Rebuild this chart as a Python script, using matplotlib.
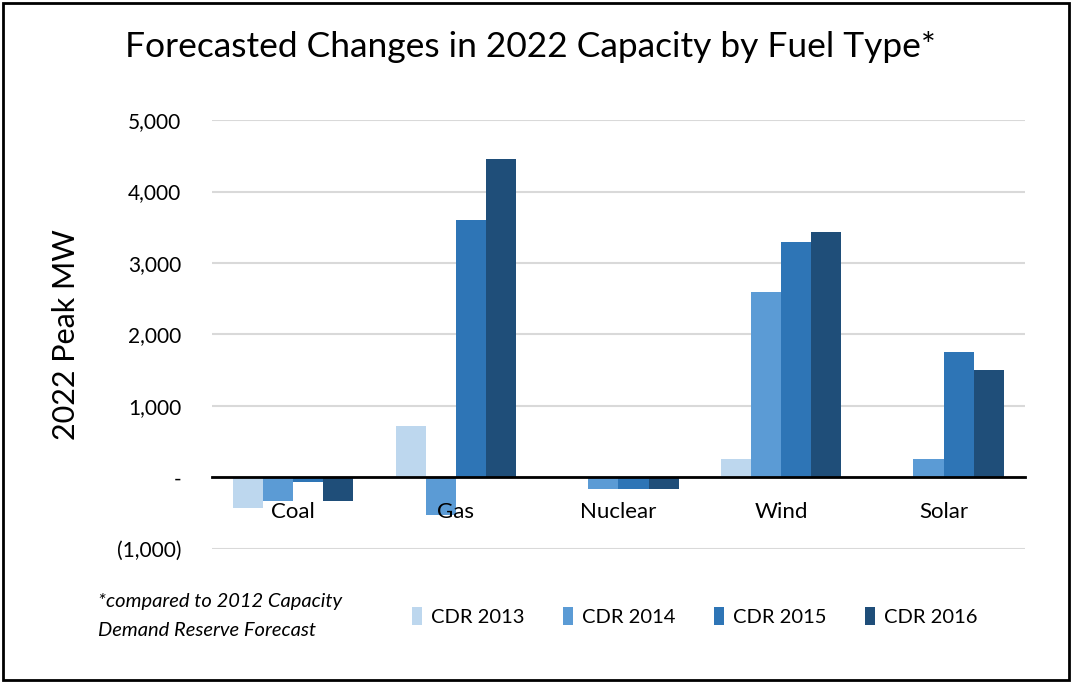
import numpy as np
import matplotlib.pyplot as plt
from matplotlib.patches import Rectangle
from matplotlib.ticker import FuncFormatter

plt.rcParams['font.family'] = ['Lato', 'DejaVu Sans']

fuels = ['Coal', 'Gas', 'Nuclear', 'Wind', 'Solar']
series = ['CDR 2013', 'CDR 2014', 'CDR 2015', 'CDR 2016']
cdr2013 = [-430, 725, 0, 265, 0]
cdr2014 = [-330, -525, -160, 2600, 265]
cdr2015 = [-60, 3600, -160, 3300, 1760]
cdr2016 = [-330, 4450, -160, 3440, 1500]
colors = ['#bdd7ee', '#5b9bd5', '#2e75b6', '#1f4e79']

fig = plt.figure(figsize=(10.72, 6.83), dpi=100)
ax = fig.add_axes([0.1978, 0.1962, 0.7582, 0.6281])

x = np.arange(len(fuels))
w = 0.185
for i, (vals, c, lab) in enumerate(zip([cdr2013, cdr2014, cdr2015, cdr2016], colors, series)):
    ax.bar(x + (i - 1.5) * w, vals, w, color=c, label=lab, zorder=3)

ax.set_xlim(-0.5, len(fuels) - 0.5)
ax.set_ylim(-1000, 5000)
ax.set_yticks(range(-1000, 5001, 1000))

def fmt(v, pos):
    if v == 0:
        return '-'
    if v < 0:
        return '({:,.0f})'.format(-v)
    return '{:,.0f}'.format(v)

ax.yaxis.set_major_formatter(FuncFormatter(fmt))
ax.grid(axis='y', color='#d9d9d9', linewidth=1.5, zorder=0)
for s in ['top', 'right', 'left']:
    ax.spines[s].set_visible(False)
ax.spines['bottom'].set_position(('data', 0))
ax.spines['bottom'].set_linewidth(2)
ax.spines['bottom'].set_zorder(4)
ax.set_xticks([])
# category names sit just under the zero line, on top of the bars
for i, f in enumerate(fuels):
    ax.annotate(f, xy=(i, 0), xytext=(0, -24.5), textcoords='offset points',
                ha='center', va='center', fontsize=16, zorder=5)
ax.tick_params(axis='y', length=0, labelsize=15, pad=22)
ax.set_ylabel('2022 Peak MW', fontsize=22, labelpad=14)
ax.yaxis.set_label_coords(-0.163, 0.5)

fig.text(0.495, 0.931, 'Forecasted Changes in 2022 Capacity by Fuel Type*',
         fontsize=25.5, ha='center', va='center')
fig.text(0.091, 0.098, '*compared to 2012 Capacity\nDemand Reserve Forecast',
         fontsize=14.5, style='italic', ha='left', va='center', linespacing=1.85)

ax.legend(loc='center', bbox_to_anchor=(0.594, -0.158), ncol=4, frameon=False,
          fontsize=14.5, handlelength=0.5, handleheight=1.0, columnspacing=1.9,
          handletextpad=0.45)

fig.patches.append(Rectangle((0.003, 0.004), 0.994, 0.992, transform=fig.transFigure,
                             fill=False, edgecolor='black', linewidth=2))

fig.savefig('out.png', dpi=100)
